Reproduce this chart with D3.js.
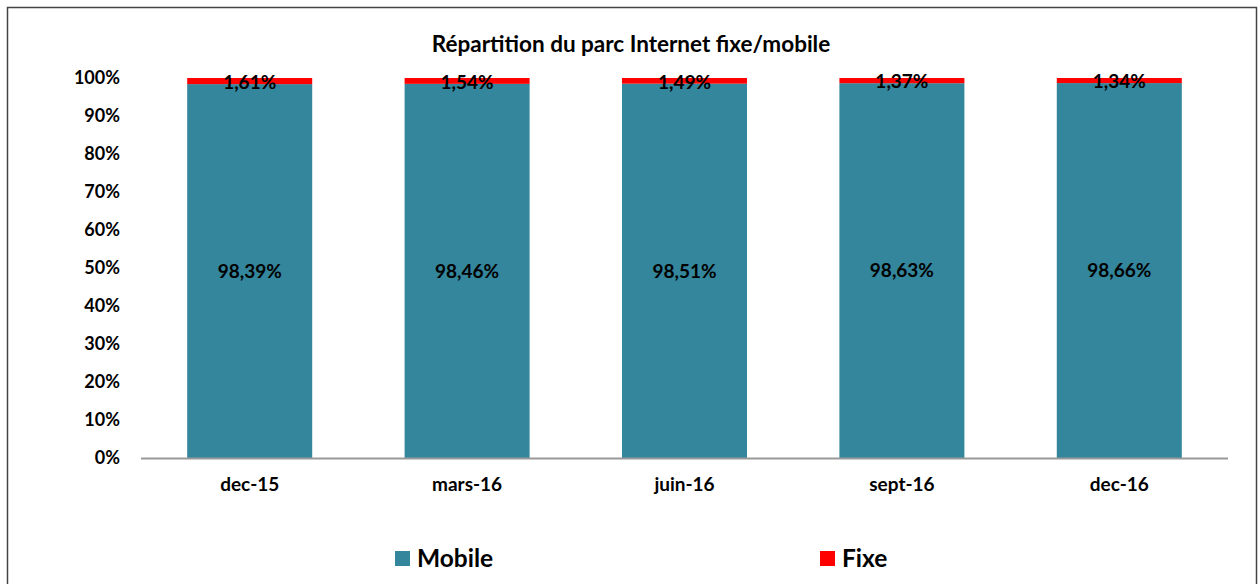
<!DOCTYPE html>
<html><head><meta charset="utf-8">
<script src="https://cdn.jsdelivr.net/npm/d3@7"></script>
<style>body{margin:0;background:#fff}svg{display:block}text{font-family:Lato,sans-serif;font-weight:bold;fill:#000}</style>
</head><body>
<svg id="c" width="1258" height="584"></svg>
<script>
const categories = ["dec-15","mars-16","juin-16","sept-16","dec-16"];
const mobile = [98.39,98.46,98.51,98.63,98.66];
const fixe = [1.61,1.54,1.49,1.37,1.34];
const mobileLabels = ["98,39%","98,46%","98,51%","98,63%","98,66%"];
const fixeLabels = ["1,61%","1,54%","1,49%","1,37%","1,34%"];
const yTicks = [0,10,20,30,40,50,60,70,80,90,100];
const title = "Répartition du parc Internet fixe/mobile";

const F = "Lato, sans-serif";
const svg = d3.select("#c");
svg.append("rect").attr("x",7.5).attr("y",7.5).attr("width",1249).attr("height",600)
  .attr("fill","#fff").attr("stroke","#444").attr("stroke-width",1.5);

const x = d3.scaleBand().domain(categories).range([141,1228]).paddingInner(0.425).paddingOuter(0.2125);
const y = d3.scaleLinear().domain([0,100]).range([458,78]);

svg.append("text").attr("x",631).attr("y",52).attr("text-anchor","middle").attr("font-size",22.5).text(title);

// y axis labels
const ya = svg.append("g").attr("transform","translate(130,0)").call(d3.axisLeft(y).tickValues(yTicks).tickFormat(d=>d+"%").tickSize(0).tickPadding(10));
ya.select(".domain").remove();
ya.selectAll("text").attr("font-size",18).attr("font-family",F).attr("font-weight","bold").attr("fill","#000");

// bars
const g = svg.append("g");
categories.forEach((c,i)=>{
  g.append("rect").attr("x",x(c)).attr("width",x.bandwidth()).attr("y",y(mobile[i])).attr("height",y(0)-y(mobile[i])).attr("fill","#33869C");
  g.append("rect").attr("x",x(c)).attr("width",x.bandwidth()).attr("y",y(mobile[i]+fixe[i])).attr("height",y(mobile[i])-y(mobile[i]+fixe[i])).attr("fill","#FF0000");
  g.append("text").attr("x",x(c)+x.bandwidth()/2).attr("y",(y(0)+y(mobile[i]))/2).attr("dy","0.36em").attr("text-anchor","middle").attr("font-size",19).text(mobileLabels[i]);
  g.append("text").attr("x",x(c)+x.bandwidth()/2).attr("y",(y(mobile[i])+y(100))/2+1).attr("dy","0.36em").attr("text-anchor","middle").attr("font-size",19).text(fixeLabels[i]);
});

// x axis
const xa = svg.append("g").attr("transform","translate(0,458)").call(d3.axisBottom(x).tickSize(0).tickPadding(20));
xa.select(".domain").attr("stroke","#999").attr("stroke-width",2).attr("d","M141,0.5H1228");
xa.selectAll("text").attr("font-size",19).attr("font-family",F).attr("font-weight","bold").attr("fill","#000");

// legend
const legend = [{name:"Mobile",color:"#33869C",x:395},{name:"Fixe",color:"#FF0000",x:820}];
legend.forEach(l=>{
  svg.append("rect").attr("x",l.x).attr("y",551).attr("width",15).attr("height",15).attr("fill",l.color);
  svg.append("text").attr("x",l.x+22).attr("y",567).attr("font-size",24.5).text(l.name);
});
</script>
</body></html>
